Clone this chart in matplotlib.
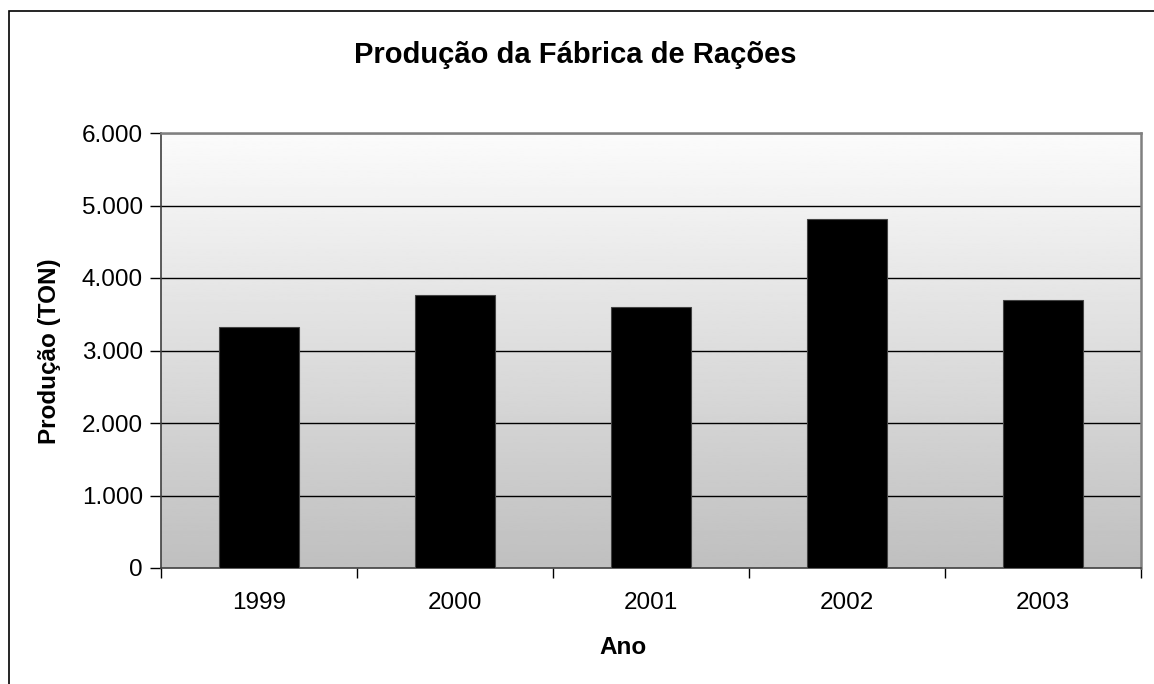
import numpy as np
import matplotlib.pyplot as plt
from matplotlib.patches import Rectangle
from matplotlib.ticker import FuncFormatter

plt.rcParams['font.family'] = ['Liberation Sans', 'DejaVu Sans']

# dados
anos = ['1999', '2000', '2001', '2002', '2003']
producao = [3330, 3760, 3605, 4810, 3700]
yticks = [0, 1000, 2000, 3000, 4000, 5000, 6000]

W, H = 1154, 684
fig = plt.figure(figsize=(W / 100, H / 100), dpi=100)
ax = fig.add_axes([161 / W, 1 - 568 / H, 980 / W, 435 / H])

# moldura externa
fig.patches.append(Rectangle((9 / W, -0.05), 1.2, 1 - 11 / H + 0.05,
                             transform=fig.transFigure, fill=False,
                             edgecolor='black', linewidth=1.2))

# fundo em gradiente
grad = np.linspace(0.75, 0.985, 256).reshape(-1, 1)
ax.imshow(grad, cmap='gray', vmin=0, vmax=1, aspect='auto', origin='lower',
          extent=[0, 1, 0, 1], transform=ax.transAxes, zorder=0)

x = np.arange(len(anos))
ax.bar(x, producao, width=0.41, color='black', edgecolor='#444444',
       linewidth=0.8, zorder=3)

ax.set_xlim(-0.5, 4.5)
ax.set_ylim(0, 6000)
ax.set_yticks(yticks)
ax.yaxis.set_major_formatter(FuncFormatter(lambda v, p: f'{int(v):,}'.replace(',', '.')))
for t in yticks[1:]:
    ax.axhline(t, color='black', linewidth=1, zorder=2)

ax.set_xticks(x)
ax.set_xticklabels(anos)
ax.set_xticks(np.arange(-0.5, 5, 1), minor=True)
ax.tick_params(axis='x', which='major', length=0, pad=17, labelsize=17.5)
ax.tick_params(axis='x', which='minor', length=7, width=1, direction='out')
ax.tick_params(axis='y', length=8, width=1, direction='out', labelsize=17.5, pad=5)

for s in ['top', 'right']:
    ax.spines[s].set_color('#808080')
    ax.spines[s].set_linewidth(1.8)
ax.spines['left'].set_color('#404040')
ax.spines['bottom'].set_color('#404040')
ax.spines['left'].set_linewidth(1.2)
ax.spines['bottom'].set_linewidth(1.2)

fig.text(575 / W, 1 - 55 / H, 'Produção da Fábrica de Rações', fontsize=21,
         fontweight='bold', ha='center', va='center')
fig.text(623 / W, 1 - 647 / H, 'Ano', fontsize=17.5, fontweight='bold',
         ha='center', va='center')
fig.text(50 / W, 1 - 351 / H, 'Produção (TON)', fontsize=17.5, fontweight='bold',
         ha='center', va='center', rotation=90)

plt.savefig('out.png', dpi=100)
